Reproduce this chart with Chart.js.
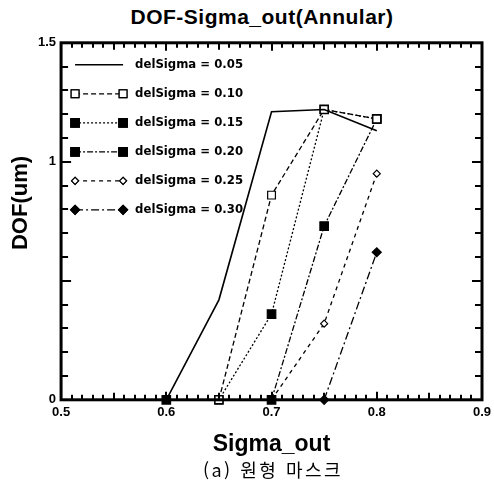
<!DOCTYPE html>
<html lang="ko">
<head>
  <meta charset="UTF-8">
  <title>DOF-Sigma_out(Annular)</title>
  <style>
    body {
      margin: 0;
      background: #fff;
      width: 494px;
      height: 486px;
      overflow: hidden;
    }
    #title {
      position: absolute;
      left: 0;
      top: 5px;
      width: 494px;
      padding-left: 30px;
      box-sizing: border-box;
      text-align: center;
      font-family: Arial, "Liberation Sans", sans-serif;
      font-weight: bold;
      font-size: 21px;
      letter-spacing: 0.5px;
    }
    #wrap {
      position: absolute;
      left: 0;
      top: 30px;
      width: 494px;
      height: 428px;
    }
    #caption {
      position: absolute;
      left: 0;
      top: 456px;
      width: 494px;
      padding-left: 52px;
      box-sizing: border-box;
      text-align: center;
      font-family: "Noto Sans CJK KR", serif;
      font-size: 18px;
      letter-spacing: 2.5px;
    }
  </style>
</head>
<body>
  <div id="title">DOF-Sigma_out(Annular)</div>
  <div id="wrap"><canvas id="dofChart"></canvas></div>
  <div id="caption">(a) 원형 마스크</div>

  <script src="https://cdn.jsdelivr.net/npm/chart.js"></script>
  <script>
    // 데이터
    const sigmaOut = [0.6, 0.65, 0.7, 0.75, 0.8];
    const seriesNames = ['delSigma = 0.05', 'delSigma = 0.10', 'delSigma = 0.15',
                         'delSigma = 0.20', 'delSigma = 0.25', 'delSigma = 0.30'];
    const dof005 = [0, 0.42, 1.21, 1.22, 1.13];
    const dof010 = [null, 0, 0.86, 1.22, 1.18];
    const dof015 = [0, 0, 0.36, 1.22, 1.18];
    const dof020 = [null, null, 0, 0.73, 1.18];
    const dof025 = [null, null, 0, 0.32, 0.95];
    const dof030 = [null, null, null, 0, 0.62];
    const yLabels = [0, 1, 1.5];

    function pts(vals) {
      return sigmaOut.map((x, i) => ({ x: x, y: vals[i] })).filter(p => p.y !== null);
    }

    // 스타일
    const styles = [
      { dash: [],            point: false,     fill: '#000', size: 0 },
      { dash: [5, 3],        point: 'rect',    fill: '#fff', size: 5.5 },
      { dash: [2, 2],        point: 'rect',    fill: '#000', size: 6 },
      { dash: [6, 2, 2, 2],  point: 'rect',    fill: '#000', size: 6 },
      { dash: [4, 4],        point: 'rectRot', fill: '#fff', size: 3.5 },
      { dash: [8, 3, 2, 3],  point: 'rectRot', fill: '#000', size: 4.5 }
    ];
    const allVals = [dof005, dof010, dof015, dof020, dof025, dof030];

    const datasets = allVals.map((v, i) => ({
      label: seriesNames[i],
      data: pts(v),
      showLine: true,
      borderColor: '#000',
      borderWidth: i === 0 ? 1.6 : 1.3,
      borderDash: styles[i].dash,
      pointStyle: styles[i].point,
      pointRadius: styles[i].size,
      pointBackgroundColor: styles[i].fill,
      pointBorderColor: '#000',
      pointBorderWidth: 1.2,
      clip: false
    }));

    // 안쪽 눈금, 테두리, 범례, y축 제목
    const framePlugin = {
      id: 'frame',
      afterDraw(chart) {
        const ctx = chart.ctx;
        const a = chart.chartArea;
        const xs = chart.scales.x, ys = chart.scales.y;
        ctx.save();
        ctx.strokeStyle = '#000';
        ctx.setLineDash([]);
        ctx.lineWidth = 2;
        ctx.beginPath();
        for (let i = 0; i <= 40; i++) {
          const px = Math.round(xs.getPixelForValue(0.5 + i / 100));
          const len = i % 10 === 0 ? 8 : (i % 5 === 0 ? 7 : 5);
          ctx.moveTo(px, a.bottom);
          ctx.lineTo(px, a.bottom - len);
          ctx.moveTo(px, a.top);
          ctx.lineTo(px, a.top + len);
        }
        for (let i = 0; i <= 15; i++) {
          const py = Math.round(ys.getPixelForValue(i / 10));
          const len = i % 5 === 0 ? 10 : 7;
          ctx.moveTo(a.left, py);
          ctx.lineTo(a.left + len, py);
          ctx.moveTo(a.right, py);
          ctx.lineTo(a.right - len, py);
        }
        ctx.stroke();
        ctx.lineWidth = 3;
        ctx.strokeRect(a.left, a.top, a.right - a.left, a.bottom - a.top);

        // y축 제목
        ctx.save();
        ctx.translate(21, 173);
        ctx.rotate(-Math.PI / 2);
        ctx.font = 'bold 22px Arial, "Liberation Sans"';
        ctx.textAlign = 'center';
        ctx.textBaseline = 'middle';
        ctx.fillStyle = '#000';
        ctx.fillText('DOF(um)', 0, 0);
        ctx.restore();

        // 범례
        ctx.font = 'bold 13px "DejaVu Sans Condensed", "Liberation Sans Narrow", Arial';
        ctx.textBaseline = 'middle';
        ctx.fillStyle = '#000';
        datasets.forEach((ds, i) => {
          const y = a.top + 22 + i * 29;
          const x0 = a.left + 14, x1 = a.left + 62;
          ctx.lineWidth = ds.borderWidth;
          ctx.setLineDash(ds.borderDash);
          ctx.beginPath();
          ctx.moveTo(x0, y);
          ctx.lineTo(x1, y);
          ctx.stroke();
          ctx.setLineDash([]);
          if (ds.pointStyle) {
            [x0, x1].forEach(px => {
              ctx.fillStyle = ds.pointBackgroundColor;
              ctx.lineWidth = 1.2;
              Chart.helpers.drawPoint(ctx, {
                pointStyle: ds.pointStyle, radius: ds.pointRadius,
                rotation: 0, borderWidth: 1.2
              }, px, y);
              ctx.fill();
              ctx.stroke();
            });
          }
          ctx.fillStyle = '#000';
          ctx.fillText(ds.label, a.left + 74, y);
        });
        ctx.restore();
      }
    };

    new Chart(document.getElementById('dofChart'), {
      type: 'scatter',
      data: { datasets: datasets },
      options: {
        responsive: true,
        maintainAspectRatio: false,
        animation: false,
        layout: { padding: { top: 12, right: 12, left: 33, bottom: 0 } },
        plugins: {
          legend: { display: false },
          tooltip: { enabled: false }
        },
        scales: {
          x: {
            type: 'linear',
            min: 0.5,
            max: 0.9,
            grid: { display: false, drawTicks: false },
            border: { display: false },
            afterFit: axis => { axis.paddingRight = 0; },
            ticks: {
              stepSize: 0.1,
              color: '#000',
              font: { family: 'Arial', weight: 'bold', size: 13 },
              padding: 5,
              callback: v => v.toFixed(1)
            },
            title: {
              display: true,
              text: 'Sigma_out',
              color: '#000',
              font: { family: 'Arial', weight: 'bold', size: 23 },
              padding: { top: 5, bottom: 0 }
            }
          },
          y: {
            min: 0,
            max: 1.5,
            grid: { display: false, drawTicks: false },
            border: { display: false },
            afterBuildTicks: axis => {
              axis.ticks = yLabels.map(v => ({ value: v }));
            },
            ticks: {
              color: '#000',
              font: { family: 'Arial', weight: 'bold', size: 13 },
              padding: 5,
              callback: v => String(v)
            }
          }
        }
      },
      plugins: [framePlugin]
    });
  </script>
</body>
</html>
